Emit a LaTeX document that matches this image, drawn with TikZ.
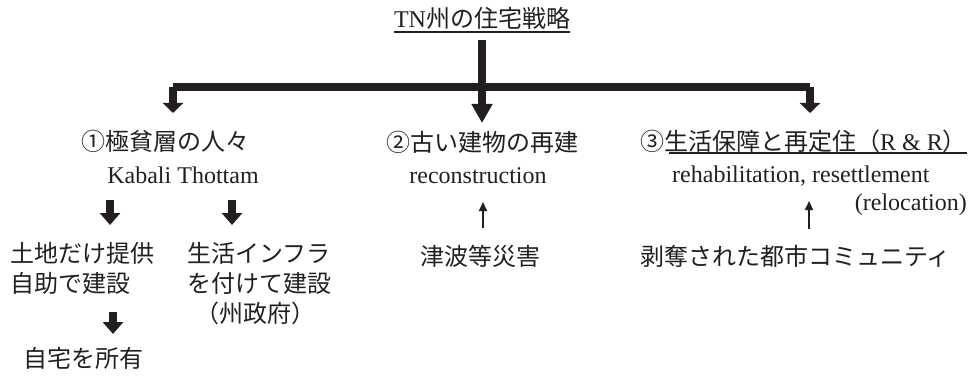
\documentclass[tikz,border=0pt]{standalone}
\usepackage{fontspec}
\setmainfont{Liberation Serif}
\newfontfamily\cjk{Noto Sans CJK JP}
\usetikzlibrary{arrows.meta,calc}
\definecolor{ink}{HTML}{231F20}
\begin{document}
\begin{tikzpicture}[x=1pt,y=-1pt,
  txt/.style={inner sep=0pt, text=ink, font=\fontsize{24}{30}\selectfont},
  jp/.style={inner sep=0pt, text=ink, font=\fontsize{24}{30}\selectfont\cjk},
  heavy/.style={draw=ink, line width=8pt, line join=miter},
  bigtip/.style={heavy, -{Triangle[width=20pt,length=10pt]}},
  longtip/.style={heavy, -{Triangle[width=20pt,length=19pt]}},
  blockarrow/.style={draw=ink, line width=8pt, -{Triangle[width=20pt,length=12pt]}},
  thinarrow/.style={draw=ink, line width=1.8pt, -{Triangle[width=8pt,length=9pt]}},
  uline/.style={draw=ink, line width=1.3pt}
]
\useasboundingbox (0,0) rectangle (976,377);

% title
\node[txt, anchor=base] (title) at (482,28) {TN{\cjk 州の住宅戦略}};
\draw[uline] ($(title.base west)+(0,4)$) -- ($(title.base east)+(0,4)$);

% level 1
\node[jp, anchor=base] (n1) at (165,150) {①極貧層の人々};
\node[txt, anchor=base] (n1e) at (183,183) {Kabali Thottam};
\node[jp, anchor=base] (n2) at (482,151) {②古い建物の再建};
\node[txt, anchor=base] (n2e) at (478,183) {reconstruction};
\node[txt, anchor=base west] (n3) at (640,150) {{\cjk ③生活保障と再定住（}R \& R{\cjk ）}};
\draw[uline] ($(n3.base west)+(29,3)$) -- ($(n3.base east)+(0,3)$);
\node[txt, anchor=base west] (n3e) at (672,182) {rehabilitation, resettlement};
\node[txt, anchor=base east] (n3f) at (967,210) {(relocation)};

% level 2
\node[jp, anchor=base west] (a1) at (10,262) {土地だけ提供};
\node[jp, anchor=base west] (a1b) at (10,292) {自助で建設};
\node[jp, anchor=base west] (a2) at (187,262) {生活インフラ};
\node[jp, anchor=base west] (a2b) at (187,292) {を付けて建設};
\node[jp, anchor=base] (a2c) at (255,322) {（州政府）};
\node[jp, anchor=base west] (a3) at (23,367) {自宅を所有};
\node[jp, anchor=base] (b) at (480,265) {津波等災害};
\node[jp, anchor=base west] (c) at (640,265) {剥奪された都市コミュニティ};

% main tree connectors
\coordinate (c0) at (482,40);
\coordinate (t2) at (482,123);
\coordinate (j1) at (173,87);
\coordinate (j3) at (810,87);
\coordinate (t1) at (173,113);
\coordinate (t3) at (810,113);
\draw[heavy] (j1) -- (j3);
\draw[bigtip] (j1) -- (t1);
\draw[bigtip] (j3) -- (t3);
\draw[longtip] (c0) -- (t2);

% small block arrows
\coordinate (s1a) at (110,200); \coordinate (s1b) at (110,225);
\coordinate (s2a) at (232,200); \coordinate (s2b) at (232,225);
\coordinate (s3a) at (113,312); \coordinate (s3b) at (113,334);
\draw[blockarrow] (s1a) -- (s1b);
\draw[blockarrow] (s2a) -- (s2b);
\draw[blockarrow] (s3a) -- (s3b);

% thin up arrows
\coordinate (u1a) at (483,228); \coordinate (u1b) at (483,202);
\coordinate (u2a) at (809,229); \coordinate (u2b) at (809,201);
\draw[thinarrow] (u1a) -- (u1b);
\draw[thinarrow] (u2a) -- (u2b);
\end{tikzpicture}
\end{document}
